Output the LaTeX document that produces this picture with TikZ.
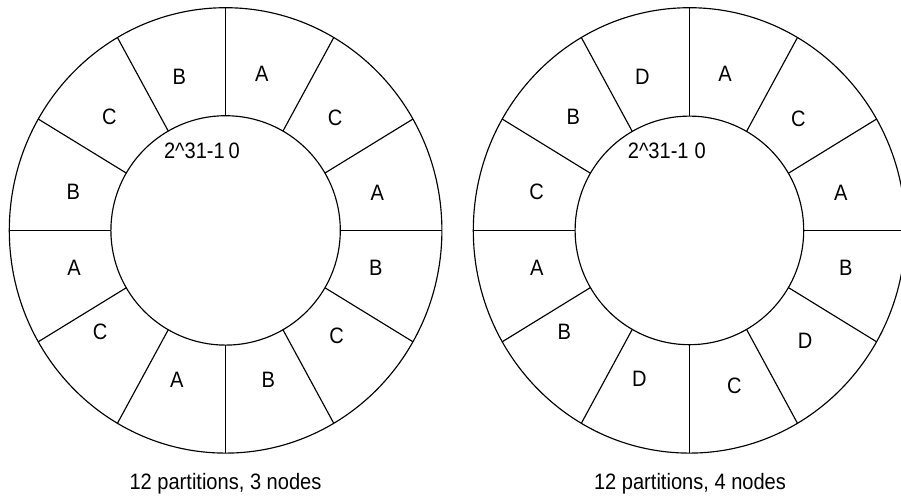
\documentclass[tikz,border=0pt]{standalone}
\usepackage{fontspec}
\setmainfont[FakeStretch=0.9]{Liberation Sans}
\usetikzlibrary{calc}
\begin{document}
\begin{tikzpicture}[x=1pt,y=-1pt,
  ring/.style={line width=1.15pt,draw=black},
  lbl/.style={inner sep=0pt,font=\fontsize{22.3}{24}\selectfont},
  captext/.style={inner sep=0pt,anchor=base,font=\fontsize{22.3}{24}\selectfont}]
\useasboundingbox (0,0) rectangle (901,496);
\clip (0,0) rectangle (901,496);
% ---------- left ring ----------
\coordinate (L) at (225.6,230.4);
\draw[ring] (L) ellipse [x radius=216.3, y radius=222.7];
\draw[ring] (L) circle [radius=114.7];
\foreach \a in {0,30,...,330}{
  \draw[ring] ($(L)+({114.7*cos(\a)},{114.7*sin(\a)})$) -- ($(L)+({216.3*cos(\a)},{222.7*sin(\a)})$);
}
\node[lbl] (l1) at (179.3,76.7) {B};
\node[lbl] (l2) at (261.7,74) {A};
\node[lbl] (l3) at (109.3,117.3) {C};
\node[lbl] (l4) at (335,118.3) {C};
\node[lbl] (l5) at (73.3,191.7) {B};
\node[lbl] (l6) at (377.3,193.3) {A};
\node[lbl] (l7) at (74,268.3) {A};
\node[lbl] (l8) at (375.7,267.7) {B};
\node[lbl] (l9) at (100,331.7) {C};
\node[lbl] (l10) at (336.7,336) {C};
\node[lbl] (l11) at (176.7,380) {A};
\node[lbl] (l12) at (268.3,380) {B};
\node[lbl,anchor=base east] (lmax) at (225,158) {2\^{}31-1};
\node[lbl,anchor=base west] (lzero) at (228.5,158) {0};
\node[captext] (lcap) at (225.5,489.5) {12 partitions, 3 nodes};
% ---------- right ring ----------
\coordinate (R) at (689.4,230.4);
\draw[ring] (R) ellipse [x radius=216.1, y radius=222.7];
\draw[ring] (R) circle [radius=114.3];
\foreach \a in {0,30,...,330}{
  \draw[ring] ($(R)+({114.3*cos(\a)},{114.3*sin(\a)})$) -- ($(R)+({216.1*cos(\a)},{222.7*sin(\a)})$);
}
\node[lbl] (r1) at (642.3,77.3) {D};
\node[lbl] (r2) at (725,74) {A};
\node[lbl] (r3) at (573.3,117.3) {B};
\node[lbl] (r4) at (798.3,119) {C};
\node[lbl] (r5) at (536.7,191.7) {C};
\node[lbl] (r6) at (840.7,193.3) {A};
\node[lbl] (r7) at (536.7,268.3) {A};
\node[lbl] (r8) at (845.7,268.3) {B};
\node[lbl] (r9) at (564.3,331.7) {B};
\node[lbl] (r10) at (805,340.7) {D};
\node[lbl] (r11) at (639.3,379) {D};
\node[lbl] (r12) at (734.3,385.7) {C};
\node[lbl,anchor=base east] (rmax) at (688.8,158) {2\^{}31-1};
\node[lbl,anchor=base west] (rzero) at (694.5,158) {0};
\node[captext] (rcap) at (690,489.5) {12 partitions, 4 nodes};
\end{tikzpicture}
\end{document}
